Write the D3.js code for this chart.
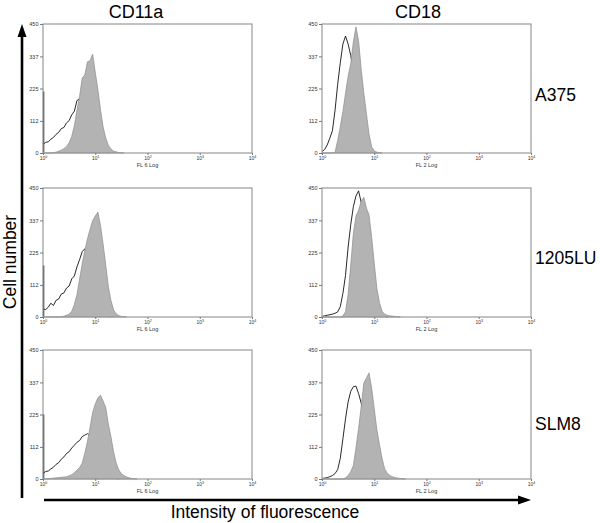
<!DOCTYPE html>
<html>
<head>
<meta charset="utf-8">
<script src="https://cdn.jsdelivr.net/npm/d3@7"></script>
<style>
  html, body { margin: 0; padding: 0; background: #fff; }
  svg { display: block; font-family: "Liberation Sans", Arial, Helvetica, sans-serif; }
</style>
</head>
<body>
<svg id="chart" width="600" height="523"></svg>
<script>
// ---------------- data ----------------
const columns = ["CD11a", "CD18"];
const rowsLabels = ["A375", "1205LU", "SLM8"];
const xAxisTitles = ["FL 6 Log", "FL 2 Log"];
const yTickValues = [0, 112, 225, 337, 450];
const xTickValues = [0, 1, 2, 3, 4]; // decades: 10^0 .. 10^4
// channel positions (log10 of intensity)
const bins = [0.00,0.05,0.10,0.15,0.20,0.25,0.30,0.35,0.40,0.45,0.50,0.55,0.60,0.65,0.70,0.75,
              0.80,0.85,0.90,0.95,1.00,1.05,1.10,1.15,1.20,1.25,1.30,1.35,1.40,1.45,1.50,1.55,
              1.60,1.65,1.70,1.75,1.80];

// first-channel pile-up of the control histograms (drawn at 10^0)
const firstChannel = [[215, 0], [180, 0], [225, 0]];

// A375
const a375Cd11aControl = [30,37,39,48,54,65,72,85,89,105,113,133,146,183,189,186,165,130,95,65,42,25,14,7,3,0];
const a375Cd11aStained = [0,0,0,0,1,3,6,10,15,23,36,58,95,150,198,262,272,318,322,345,282,222,152,92,53,27,14,7,4,2,1,0];
const a375Cd18Control  = [5,12,28,52,78,150,240,315,380,408,380,340,290,220,150,90,50,25,12,5,2,0];
const a375Cd18Stained  = [0,0,0,0,0,3,44,92,145,208,268,312,388,440,392,292,210,138,66,22,7,3,1,0];
// 1205LU
const lu1205Cd11aControl = [28,26,34,48,40,58,63,80,84,101,108,133,143,175,200,228,238,210,170,125,85,55,32,16,7,3,0];
const lu1205Cd11aStained = [0,0,0,0,0,0,0,1,3,6,10,20,44,78,132,185,232,272,306,336,352,366,320,255,183,107,58,25,11,5,2,1,0];
const lu1205Cd18Control  = [2,4,6,8,10,13,18,36,82,145,244,322,385,422,440,400,330,250,170,100,55,28,12,5,2,0];
const lu1205Cd18Stained  = [0,0,0,0,0,0,0,0,4,18,80,181,291,352,372,404,418,380,356,280,188,100,50,20,10,6,4,3,2,1,0];
// SLM8
const slm8Cd11aControl = [20,26,28,35,41,51,57,69,77,89,95,108,118,128,134,148,153,158,150,130,105,80,58,38,24,14,8,4,2,0];
const slm8Cd11aStained = [0,0,1,2,3,4,5,6,7,8,11,15,22,31,40,55,90,130,180,232,262,283,292,272,250,192,148,96,56,32,18,12,7,4,2,1,0];
const slm8Cd18Control  = [2,3,5,8,12,19,33,72,140,210,269,306,322,324,298,265,220,160,110,70,40,22,10,5,2,0];
const slm8Cd18Stained  = [0,0,0,0,0,0,0,0,0,4,12,26,47,108,176,252,335,352,370,318,245,172,120,72,35,20,12,8,5,3,2,1,0];

const panels = [
  [{ctrl: a375Cd11aControl,   stain: a375Cd11aStained},   {ctrl: a375Cd18Control,   stain: a375Cd18Stained}],
  [{ctrl: lu1205Cd11aControl, stain: lu1205Cd11aStained}, {ctrl: lu1205Cd18Control, stain: lu1205Cd18Stained}],
  [{ctrl: slm8Cd11aControl,   stain: slm8Cd11aStained},   {ctrl: slm8Cd18Control,   stain: slm8Cd18Stained}]
];

// ---------------- layout ----------------
const colX = [43, 322];
const rowY = [24, 188, 350];
const PW = 209, PH = 129;
const FONT = '"Liberation Sans", Arial, Helvetica, sans-serif';

const svg = d3.select("#chart");

const x = d3.scaleLinear().domain([0, 4]).range([0, PW]);
const y = d3.scaleLinear().domain([0, 450]).range([PH, 0]);

const line = d3.line().x((d) => x(d[0])).y((d) => y(d[1])).curve(d3.curveLinear);
const area = d3.area().x((d) => x(d[0])).y0(y(0)).y1((d) => y(d[1])).curve(d3.curveLinear);

function toPts(vals) { return vals.map((v, i) => [bins[i], v]); }

panels.forEach((row, ri) => {
  row.forEach((p, ci) => {
    const g = svg.append("g").attr("transform", `translate(${colX[ci]},${rowY[ri]})`);

    // control (open) histogram, drawn beneath stained
    const fc = firstChannel[ri][ci];
    if (fc > 0) {
      g.append("line")
        .attr("x1", x(0) + 0.6).attr("x2", x(0) + 0.6)
        .attr("y1", y(0)).attr("y2", y(fc))
        .attr("stroke", "#3a3a3a").attr("stroke-width", 1.4);
    }
    g.append("path").datum(toPts(p.ctrl))
      .attr("d", line).attr("fill", "none")
      .attr("stroke", "#111").attr("stroke-width", 0.9).attr("stroke-linejoin", "round");

    // stained (filled) histogram
    g.append("path").datum(toPts(p.stain))
      .attr("d", area).attr("fill", "#b3b3b3")
      .attr("stroke", "#8c8c8c").attr("stroke-width", 0.7);

    // frame
    g.append("rect").attr("x", 0).attr("y", 0).attr("width", PW).attr("height", PH)
      .attr("fill", "none").attr("stroke", "#9a9a9a").attr("stroke-width", 1.2);

    // y axis
    const ya = g.append("g").call(d3.axisLeft(y).tickValues(yTickValues).tickSize(3).tickPadding(1.5));
    ya.select(".domain").remove();
    ya.selectAll("line").attr("stroke", "#777");
    ya.selectAll("text").attr("font-size", 5.5).attr("font-family", FONT).attr("fill", "#333");

    // x axis
    const xa = g.append("g").attr("transform", `translate(0,${PH})`)
      .call(d3.axisBottom(x).tickValues(xTickValues).tickSize(2).tickPadding(1.5).tickFormat(() => ""));
    xa.select(".domain").remove();
    xa.selectAll("line").attr("stroke", "#777");
    xa.selectAll("text").each(function (d) {
      const t = d3.select(this);
      t.attr("font-size", 5).attr("font-family", FONT).attr("fill", "#333");
      t.text("10");
      t.append("tspan").attr("dy", "-0.45em").attr("font-size", 3.6).text(d);
    });

    g.append("text").attr("x", PW / 2).attr("y", PH + 13.5)
      .attr("text-anchor", "middle").attr("font-size", 5.5).attr("font-family", FONT)
      .attr("fill", "#333").text(xAxisTitles[ci]);
  });
});

// column titles
const colTitleX = [136, 418];
columns.forEach((c, i) => {
  svg.append("text").attr("x", colTitleX[i]).attr("y", 18)
    .attr("text-anchor", "middle").attr("font-size", 18).attr("fill", "#000").text(c);
});

// row labels
const rowLabelY = [101, 264, 430];
rowsLabels.forEach((r, i) => {
  svg.append("text").attr("x", 535).attr("y", rowLabelY[i])
    .attr("font-size", 17.5).attr("fill", "#000").text(r);
});

// axes arrows
svg.append("line").attr("x1", 22).attr("x2", 22).attr("y1", 498).attr("y2", 34)
  .attr("stroke", "#000").attr("stroke-width", 2.6);
svg.append("path").attr("d", "M22,24 L17.5,37 L26.5,37 Z").attr("fill", "#000");

svg.append("line").attr("x1", 44).attr("x2", 520).attr("y1", 500).attr("y2", 500)
  .attr("stroke", "#000").attr("stroke-width", 2.6);
svg.append("path").attr("d", "M531,500 L518,495.5 L518,504.5 Z").attr("fill", "#000");

svg.append("text").attr("x", 265).attr("y", 518).attr("text-anchor", "middle")
  .attr("font-size", 17.5).attr("fill", "#000").text("Intensity of fluorescence");

svg.append("text").attr("transform", "translate(16,262) rotate(-90)")
  .attr("text-anchor", "middle").attr("font-size", 17.5).attr("fill", "#000").text("Cell number");
</script>
</body>
</html>
